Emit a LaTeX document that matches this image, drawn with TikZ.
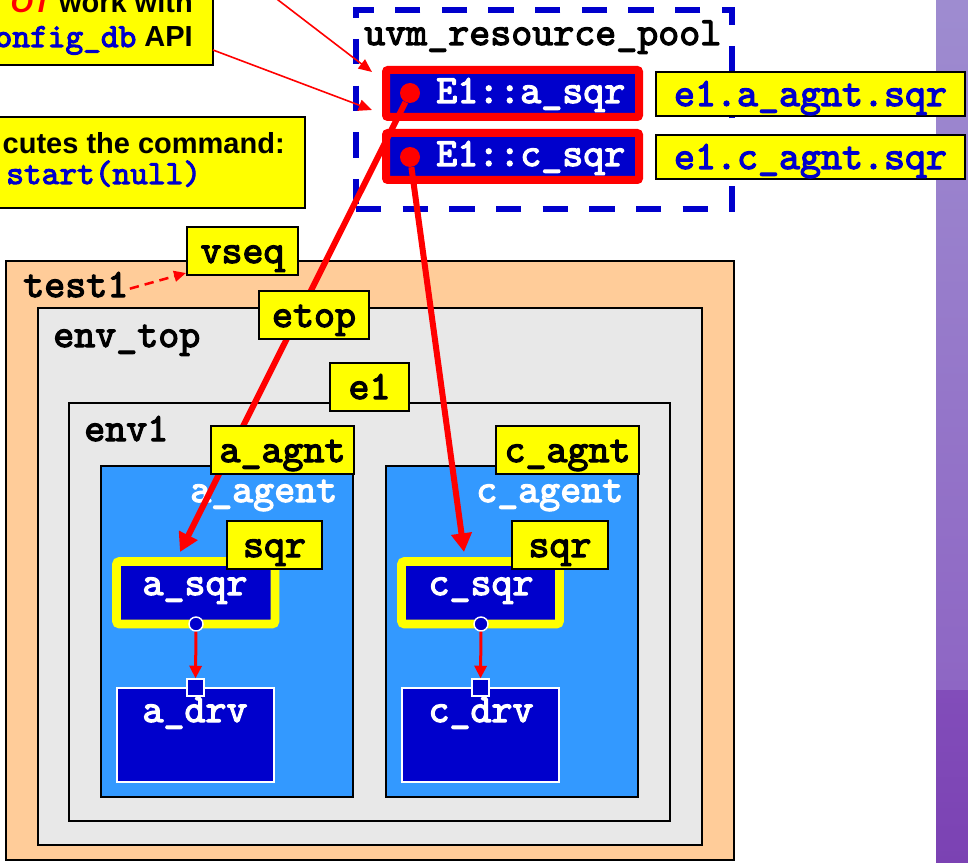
\documentclass[tikz,border=0pt]{standalone}
\usepackage{fontspec}
\setmainfont{Liberation Sans}
\newfontfamily\heavymono{lmmono10-regular.otf}[FakeBold=3]
\usetikzlibrary{arrows.meta,fit}
\definecolor{hlyellow}{HTML}{FFFF00}
\definecolor{dblue}{HTML}{0000CC}
\definecolor{lblue}{HTML}{3399FF}
\definecolor{peach}{HTML}{FFCC99}
\definecolor{lgrey}{HTML}{E8E8E8}
\definecolor{codeblue}{HTML}{0000CC}
\definecolor{stripA}{HTML}{9E8CD0}
\definecolor{stripB}{HTML}{8E66C4}
\definecolor{stripC}{HTML}{824DBA}
\definecolor{stripD}{HTML}{7B42B3}
\begin{document}
\begin{tikzpicture}[x=0.75pt,y=-0.75pt,
  mono/.style={font=\heavymono\fontsize{30}{34}\selectfont},
  calltext/.style={font=\bfseries\fontsize{21.75}{26}\selectfont,inner sep=0pt},
  callout/.style={fill=hlyellow,draw=black,line width=1.6pt,inner sep=0pt},
  region/.style={draw=black,line width=2pt,inner sep=0pt},
  wh/.style 2 args={minimum width=#1*0.75pt,minimum height=#2*0.75pt},
  ytag/.style={fill=hlyellow,draw=black,line width=1.5pt,inner sep=0pt,mono,
    text height=20pt,text depth=2pt},
  title/.style={mono,inner sep=0pt,anchor=base west},
  wtitle/.style={mono,inner sep=0pt,text=white},
  sqrbox/.style={fill=dblue,draw=hlyellow,line width=6.4pt,inner sep=0pt,rounded corners=2pt},
  poolbox/.style={fill=dblue,draw=red,line width=6pt,inner sep=0pt,rounded corners=1.5pt},
  drvbox/.style={fill=dblue,draw=white,line width=1.5pt,inner sep=0pt},
  reddot/.style={circle,fill=red,minimum size=15pt,inner sep=0pt},
  portc/.style={circle,fill=dblue,draw=white,line width=1.1pt,minimum size=10.5pt,inner sep=0pt},
  ports/.style={rectangle,fill=dblue,draw=white,line width=1.1pt,minimum size=12.5pt,inner sep=0pt},
  bigarrow/.style={draw=red,line width=4.5pt,-{Triangle[length=14pt,width=15pt]}},
  smallarrow/.style={draw=red,line width=2.25pt,-{Triangle[length=9.5pt,width=9pt]}},
  thinarrow/.style={draw=red,line width=1.2pt,-{Triangle[length=10pt,width=8.5pt]}},
  dasharrow/.style={draw=red,line width=1.9pt,dash pattern=on 7pt off 4.5pt,-{Triangle[length=9pt,width=8pt]}}
]
\useasboundingbox (0,0) rectangle (968,863);
\clip (0,0) rectangle (968,863);

% side strip
\shade[top color=stripA,bottom color=stripB] (936,0) rectangle (968,690);
\shade[top color=stripC,bottom color=stripD] (936,690) rectangle (968,863);

% callout notes
\node[callout,fit={(-20,-80) (213,65)}] (noteA) {};
\node[calltext,anchor=base east] (noteAa) at (193,13) {\textcolor{red}{\itshape OT} work with};
\node[calltext,anchor=base east] (noteAb) at (193,47) {\textcolor{codeblue}{\heavymono\fontsize{25.3}{28}\selectfont onfig\_db} API};
\node[callout,fit={(-20,117) (305,208)}] (noteB) {};
\node[calltext,anchor=base east] (noteBa) at (285,154) {cutes the command:};
\node[calltext,anchor=base west,text=codeblue] (noteBb) at (6,184) {\heavymono\fontsize{25.3}{28}\selectfont start(null)};

% resource pool
\node[draw=dblue,line width=4.5pt,dash pattern=on 19pt off 16pt,inner sep=0pt,fit={(356,10) (732,209)}] (pool) {};
\node[title] (poolt) at (364,45) {uvm\_resource\_pool};
\node[poolbox,fit={(386,70) (639,117)}] (entA) {};
\node[wtitle,anchor=base west] (entAt) at (436,103) {E1::a\_sqr};
\node[poolbox,fit={(386,133) (639,180)}] (entC) {};
\node[wtitle,anchor=base west] (entCt) at (436,166) {E1::c\_sqr};
\node[reddot] (dotA) at (410,93) {};
\node[reddot] (dotC) at (410,157) {};
\node[ytag,wh={309}{44},text=codeblue] (pathA) at (810.5,94) {e1.a\_agnt.sqr};
\node[ytag,wh={309}{44},text=codeblue] (pathC) at (810.5,157) {e1.c\_agnt.sqr};

% hierarchy
\node[region,fill=peach,fit={(6,261) (734,860)}] (test) {};
\node[title] (testt) at (23,297) {test1};
\node[region,fill=lgrey,fit={(38,308) (702,845)}] (envtop) {};
\node[title] (envtopt) at (53,347) {env\_top};
\node[region,fill=lgrey,fit={(69,403) (670,821)}] (envone) {};
\node[title] (envonet) at (84,441) {env1};
\node[region,fill=lblue,fit={(101,466) (353,797)}] (aag) {};
\node[wtitle,anchor=base west] (aagt) at (190,502) {a\_agent};
\node[region,fill=lblue,fit={(386,466) (638,797)}] (cag) {};
\node[wtitle,anchor=base west] (cagt) at (476,502) {c\_agent};

% sequencers and drivers
\node[sqrbox,fit={(116.5,561.5) (275,624)}] (asqr) {};
\node[wtitle,anchor=base] (asqrt) at (195,595) {a\_sqr};
\node[sqrbox,fit={(401.5,561.5) (559.5,624)}] (csqr) {};
\node[wtitle,anchor=base] (csqrt) at (481,595) {c\_sqr};
\node[drvbox,fit={(117,688) (274,782)}] (adrv) {};
\node[wtitle,anchor=base] (adrvt) at (195,722) {a\_drv};
\node[drvbox,fit={(402,688) (559,782)}] (cdrv) {};
\node[wtitle,anchor=base] (cdrvt) at (481,722) {c\_drv};
\node[portc] (aexp) at (196,624) {};
\node[portc] (cexp) at (481,624) {};
\node[ports] (aimp) at (195.5,687.5) {};
\node[ports] (cimp) at (480.5,687.5) {};
\draw[smallarrow] (aexp.south) -- (aimp.north);
\draw[smallarrow] (cexp.south) -- (cimp.north);

% lookups from the pool
\coordinate (tipA) at (180,552);
\coordinate (tipC) at (464,552);
\draw[bigarrow] (dotA) -- (tipA);
\draw[bigarrow] (dotC) -- (tipC);

% instance name tags
\node[ytag,wh={111}{48}] (vseq) at (242.5,251) {vseq};
\node[ytag,wh={110}{48}] (etop) at (314,315) {etop};
\node[ytag,wh={79}{48}] (eone) at (369.5,387) {e1};
\node[ytag,wh={143}{48}] (aagnt) at (282.5,450) {a\_agnt};
\node[ytag,wh={143}{48}] (cagnt) at (567.5,450) {c\_agnt};
\node[ytag,wh={95.5}{48}] (asqrtag) at (274.5,545) {sqr};
\node[ytag,wh={96}{48}] (csqrtag) at (560,545) {sqr};

\draw[dasharrow] ([xshift=1pt,yshift=-3pt]testt.east) -- ([yshift=2.25pt]vseq.south west);

% note pointers
\coordinate (offA) at (252,-20);
\coordinate (noteAout) at (213,50);
\coordinate (pinA) at (372,72);
\coordinate (pinB) at (372,110);
\draw[thinarrow] (offA) -- (pinA);
\draw[thinarrow] (noteAout) -- (pinB);
\end{tikzpicture}
\end{document}
